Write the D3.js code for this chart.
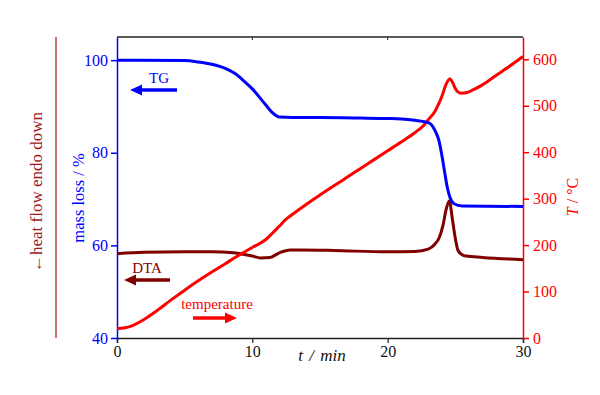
<!DOCTYPE html>
<meta charset="utf-8">
<head>
  <meta charset="utf-8">
  <title>TG / DTA / temperature</title>
</head>
<style>
body { margin: 0; background: #fff; }
svg text { font-family: 'Liberation Serif', 'DejaVu Serif', serif; }
</style>
<body>
<div class='chart'></div>

<script src="https://cdn.jsdelivr.net/npm/d3@7"></script>
<script>

// ---- data (t in min) ----
var tgTime  = [0, 5, 6, 7, 8, 9, 9.3, 10, 11, 11.5, 12, 13, 15, 18, 20, 21, 22, 23, 23.5, 23.8, 24, 24.2, 24.4, 24.6, 24.9, 25.5, 30]
var tgMass  = [100, 99.9, 99.6, 99.1, 98.2, 96.5, 95.7, 93.8, 90.3, 88.6, 87.7, 87.6, 87.6, 87.5, 87.4, 87.3, 87.0, 86.5, 84.8, 82.5, 79.5, 76.0, 72.6, 70.4, 69.0, 68.5, 68.4]

var dtaTime = [0, 2, 5, 7, 8.6, 9.1, 10, 10.6, 11.3, 12, 12.8, 13.5, 16, 20, 22, 23, 23.5, 23.8, 24.1, 24.3, 24.55, 24.8, 25, 25.2, 25.5, 25.8, 27, 30]
var dtaVal  = [58.2, 58.5, 58.6, 58.6, 58.4, 58.2, 57.7, 57.3, 57.4, 58.4, 59.0, 59.0, 58.9, 58.6, 58.7, 59.2, 60.3, 61.6, 64.5, 67.5, 69.6, 65.3, 61.5, 58.9, 58.0, 57.7, 57.4, 56.9]

var tempTime = [0, 1, 2, 3, 4, 5, 6, 7, 8, 9, 10, 11, 11.5, 12, 12.5, 13, 14, 15, 16, 17, 18, 19, 20, 21, 22, 22.6, 23, 23.5, 23.8, 24, 24.3, 24.6, 24.8, 25, 25.4, 25.8, 26.3, 27, 28, 29, 30]
var tempVal  = [20, 25, 40, 60, 82, 103, 123, 142, 160, 178, 195, 212, 226, 241, 256, 267, 288, 308, 327, 346, 365, 384, 403, 422, 442, 456, 470, 488, 506, 520, 545, 558, 550, 537, 527, 528, 534, 545, 565, 585, 606]

var xTicks = [0, 10, 20, 30]
var leftTicks = [40, 60, 80, 100]
var rightTicks = [0, 100, 200, 300, 400, 500, 600]

// ---- layout ----
var width = 600
var height = 395
var mL = 117, mR = 523, mT = 37, mB = 338

var blue = '#0000ff', red = '#ff0000', dta = '#800000', hf = '#a01818'

var svg = d3.select('.chart')
    .append('svg')
    .attr('width', width)
    .attr('height', height)

var x = d3.scaleLinear().domain([0, 30]).range([mL, mR])
var yL = d3.scaleLinear().domain([40, 105]).range([mB, mT])
var yR = d3.scaleLinear().domain([0, 648]).range([mB, mT])

// top frame line with small inner ticks
svg.append('line')
    .attr('x1', mL).attr('x2', mR).attr('y1', mT).attr('y2', mT)
    .attr('stroke', '#222').attr('stroke-width', 1.5)
svg.selectAll('.topTick')
    .data([10, 20])
    .enter().append('line')
    .attr('x1', function (d) { return x(d) }).attr('x2', function (d) { return x(d) })
    .attr('y1', mT).attr('y2', mT + 3)
    .attr('stroke', '#222').attr('stroke-width', 1)

// bottom axis
var gx = svg.append('g')
    .attr('transform', 'translate(0,' + mB + ')')
    .call(d3.axisBottom(x).tickValues(xTicks).tickSize(5).tickPadding(3).tickFormat(d3.format('d')))
gx.select('.domain').attr('stroke', '#222').attr('stroke-width', 1.5)
gx.selectAll('.tick line').attr('stroke', '#222').attr('stroke-width', 1.2)
gx.selectAll('.tick text').attr('fill', '#111').style('font-size', '16px')

// left axis (mass)
var gl = svg.append('g')
    .attr('transform', 'translate(' + mL + ',0)')
    .call(d3.axisLeft(yL).tickValues(leftTicks).tickSize(6).tickPadding(3).tickSizeOuter(0))
gl.select('.domain').attr('stroke', blue).attr('stroke-width', 1.5)
gl.selectAll('.tick line').attr('stroke', blue).attr('stroke-width', 1.5)
gl.selectAll('.tick text').attr('fill', blue).style('font-size', '16px')

// right axis (temperature)
var gr = svg.append('g')
    .attr('transform', 'translate(' + mR + ',0)')
    .call(d3.axisRight(yR).tickValues(rightTicks).tickSize(6).tickPadding(4).tickSizeOuter(0))
gr.select('.domain').attr('stroke', red).attr('stroke-width', 1.5)
gr.selectAll('.tick line').attr('stroke', red).attr('stroke-width', 1.5)
gr.selectAll('.tick text').attr('fill', red).style('font-size', '16px')

// curves
function series(ts, vs) { return ts.map(function (t, i) { return [t, vs[i]] }) }

var lineL = d3.line()
    .x(function (d) { return x(d[0]) })
    .y(function (d) { return yL(d[1]) })
    .curve(d3.curveMonotoneX)
var lineR = d3.line()
    .x(function (d) { return x(d[0]) })
    .y(function (d) { return yR(d[1]) })
    .curve(d3.curveMonotoneX)

svg.append('path').datum(series(dtaTime, dtaVal))
    .attr('d', lineL).attr('fill', 'none').attr('stroke', dta).attr('stroke-width', 3)
svg.append('path').datum(series(tempTime, tempVal))
    .attr('d', lineR).attr('fill', 'none').attr('stroke', red).attr('stroke-width', 3)
svg.append('path').datum(series(tgTime, tgMass))
    .attr('d', lineL).attr('fill', 'none').attr('stroke', blue).attr('stroke-width', 3)

// legend labels with arrows
function arrow(x1, x2, y, col) {
    var dir = x2 < x1 ? -1 : 1
    svg.append('line')
        .attr('x1', x1).attr('x2', x2 - dir * 9).attr('y1', y).attr('y2', y)
        .attr('stroke', col).attr('stroke-width', 3.5)
    svg.append('path')
        .attr('d', 'M' + x2 + ',' + y + 'L' + (x2 - dir * 12) + ',' + (y - 5.5) + 'L' + (x2 - dir * 12) + ',' + (y + 5.5) + 'Z')
        .attr('fill', col)
}
svg.append('text').attr('x', 159).attr('y', 83).attr('text-anchor', 'middle')
    .attr('fill', blue).style('font-size', '15px').text('TG')
arrow(177, 130, 90, blue)

svg.append('text').attr('x', 147).attr('y', 273).attr('text-anchor', 'middle')
    .attr('fill', dta).style('font-size', '15px').text('DTA')
arrow(170, 124, 280, dta)

svg.append('text').attr('x', 217).attr('y', 309).attr('text-anchor', 'middle')
    .attr('fill', red).style('font-size', '15px').text('temperature')
arrow(193, 237, 318, red)

// axis titles
var xt = svg.append('text').attr('x', 322).attr('y', 361).attr('text-anchor', 'middle')
    .attr('fill', '#111').style('font-size', '17px').style('font-style', 'italic')
    .style('word-spacing', '2px')
xt.text('t / min')

svg.append('text')
    .attr('transform', 'translate(84,198) rotate(-90)')
    .attr('text-anchor', 'middle').attr('fill', blue).style('font-size', '16.5px')
    .text('mass loss / %')

var rt = svg.append('text')
    .attr('transform', 'translate(578,197) rotate(-90)')
    .attr('text-anchor', 'middle').attr('fill', red).style('font-size', '16px')
rt.append('tspan').style('font-style', 'italic').text('T')
rt.append('tspan').text(' / °C')

// heat flow marker on the far left
svg.append('line')
    .attr('x1', 56).attr('x2', 56).attr('y1', mT).attr('y2', mB)
    .attr('stroke', hf).attr('stroke-width', 1.2)
svg.append('text')
    .attr('transform', 'translate(42,192) rotate(-90)')
    .attr('text-anchor', 'middle').attr('fill', hf).style('font-size', '17px')
    .text('←heat flow endo down')

</script>
</body>
